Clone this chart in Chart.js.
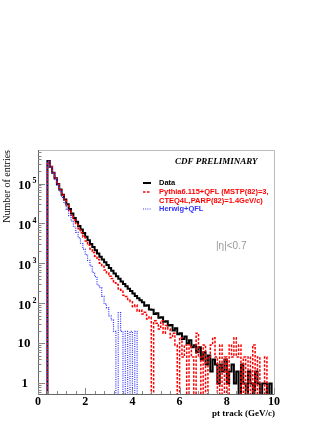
<!DOCTYPE html>
<html>
<head>
<meta charset="utf-8">
<script src="https://cdn.jsdelivr.net/npm/chart.js@4.4.0/dist/chart.umd.min.js"></script>
<style>
  html, body { margin: 0; padding: 0; background: #fff; }
  canvas { display: block; }
</style>
</head>
<body>
<canvas id="chart" width="329" height="425"></canvas>
<script>
// pt bins of 0.1 GeV/c from 0 to 10
const binWidth = 0.1;

// CDF data, entries per bin
const dataCounts = [
  0, 0, 0, 0, 363000, 263000, 186000, 135000, 97700, 70800,
  52500, 39800, 30200, 22900, 17800, 13800, 11000, 8710, 7080, 5750,
  4680, 3800, 3090, 2570, 2140, 1780, 1480, 1260, 1070, 912,
  776, 661, 562, 479, 417, 355, 309, 269, 234, 204,
  178, 155, 135, 120, 108, 88, 90, 71, 70, 55,
  57, 44, 45, 35, 36, 28, 29, 21, 24, 17,
  18, 13, 15, 10, 12, 8, 9, 6, 8, 4,
  6, 3, 5, 2, 4, 3, 1, 3, 2, 4,
  1, 2, 3, 1, 2, 0, 3, 1, 0, 2,
  1, 0, 2, 1, 0, 1, 1, 0, 1, 0
];

// Pythia6.115+QFL
const pythiaCounts = [
  0, 0, 0, 0, 355000, 262000, 184000, 133000, 96000, 69000,
  50500, 37800, 28300, 21200, 16100, 12300, 9500, 7400, 5850, 4600,
  3650, 2900, 2300, 1880, 1520, 1260, 1010, 850, 690, 590,
  480, 420, 330, 300, 230, 215, 160, 150, 120, 110,
  83, 92, 64, 69, 55, 60, 41, 46, 0, 37,
  32, 23, 37, 18, 28, 23, 14, 18, 9.2, 0,
  14, 4.6, 9.2, 0, 9.2, 4.6, 0, 18, 4.6, 0,
  9.2, 0, 4.6, 9.2, 14, 4.6, 0, 9.2, 0, 4.6,
  0, 9.2, 4.6, 14, 4.6, 9.2, 0, 4.6, 0, 4.6,
  0, 9.2, 0, 4.6, 0, 0, 4.6, 0, 0, 0
];

// Herwig+QFL
const herwigCounts = [
  0, 0, 0, 0, 363000, 257000, 182000, 129000, 91200, 64600,
  44700, 31600, 22400, 15800, 11500, 8300, 6030, 4370, 3160, 2290,
  1660, 1200, 870, 600, 470, 290, 250, 150, 98, 78,
  49, 39, 20, 0, 59, 20, 0, 20, 0, 20,
  0, 20, 0, 0, 0, 0, 0, 0, 0, 0,
  0, 0, 0, 0, 0, 0, 0, 0, 0, 0,
  0, 0, 0, 0, 0, 0, 0, 0, 0, 0,
  0, 0, 0, 0, 0, 0, 0, 0, 0, 0,
  0, 0, 0, 0, 0, 0, 0, 0, 0, 0,
  0, 0, 0, 0, 0, 0, 0, 0, 0, 0
];

const xTickValues = [0, 2, 4, 6, 8, 10];
const xTickLabels = ['0', '2', '4', '6', '8', '10'];
const yTickValues = [1, 10, 100, 1000, 10000, 100000];
const yTickBase = ['1', '10', '10', '10', '10', '10'];
const yTickExp = ['', '', '2', '3', '4', '5'];

const yMin = 0.546;
const yMax = 688000;
const emptyBinLevel = 0.5; // empty bins sit just under the frame

function histPoints(counts) {
  const pts = counts.map((c, i) => ({ x: i * binWidth, y: c > 0 ? c : emptyBinLevel }));
  const last = counts[counts.length - 1];
  pts.push({ x: counts.length * binWidth, y: last > 0 ? last : emptyBinLevel });
  return pts;
}

const decor = {
  id: 'decor',
  afterDraw(chart) {
    const { ctx, chartArea: a } = chart;
    const x = chart.scales.x, y = chart.scales.y;
    ctx.save();

    // frame
    ctx.lineWidth = 1;
    ctx.strokeStyle = '#bbbbbb';
    ctx.beginPath();
    ctx.moveTo(a.left, a.top + 0.5); ctx.lineTo(a.right + 0.5, a.top + 0.5);
    ctx.lineTo(a.right + 0.5, a.bottom);
    ctx.stroke();
    ctx.strokeStyle = '#666666';
    ctx.beginPath();
    ctx.moveTo(a.left + 0.5, a.top); ctx.lineTo(a.left + 0.5, a.bottom + 0.5);
    ctx.lineTo(a.right + 0.5, a.bottom + 0.5);
    ctx.stroke();

    // ticks
    ctx.strokeStyle = '#888888';
    ctx.beginPath();
    for (let d = -1; d <= 5; d++) {
      for (let m = 1; m <= 9; m++) {
        const py = y.getPixelForValue(m * Math.pow(10, d));
        if (py < a.top || py > a.bottom) continue;
        const len = m === 1 ? 7 : 3.5;
        ctx.moveTo(a.left, Math.round(py) + 0.5);
        ctx.lineTo(a.left + len, Math.round(py) + 0.5);
      }
    }
    for (let v = 0; v <= 10.001; v += 0.4) {
      const px = Math.round(x.getPixelForValue(v)) + 0.5;
      const major = Math.abs(v / 2 - Math.round(v / 2)) < 0.01;
      ctx.moveTo(px, a.bottom);
      ctx.lineTo(px, a.bottom - (major ? 6 : 3));
    }
    ctx.stroke();

    // tick labels
    ctx.fillStyle = '#000';
    ctx.textBaseline = 'middle';
    ctx.textAlign = 'center';
    ctx.font = 'bold 12px "Liberation Serif"';
    xTickValues.forEach((v, i) => {
      ctx.fillText(xTickLabels[i], x.getPixelForValue(v), a.bottom + 8);
    });
    yTickValues.forEach((v, i) => {
      const py = y.getPixelForValue(v);
      ctx.font = 'bold 13px "Liberation Serif"';
      ctx.textAlign = 'right';
      if (yTickExp[i]) {
        ctx.fillText(yTickBase[i], 31, py + 2.5);
        ctx.font = 'bold 8px "Liberation Serif"';
        ctx.textAlign = 'left';
        ctx.fillText(yTickExp[i], 32.5, py - 3);
      } else {
        ctx.fillText(yTickBase[i], yTickBase[i] === '1' ? 28 : 30.5, py);
      }
    });

    // axis titles
    ctx.font = '10px "Liberation Serif"';
    ctx.textAlign = 'right';
    ctx.save();
    ctx.translate(7, a.top);
    ctx.rotate(-Math.PI / 2);
    ctx.fillText('Number of entries', 0, 0);
    ctx.restore();

    ctx.font = 'bold 9px "Liberation Serif"';
    ctx.fillText('pt track (GeV/c)', 275, 414);

    // header and annotation
    ctx.font = 'italic bold 9px "Liberation Serif"';
    ctx.textAlign = 'left';
    ctx.fillText('CDF PRELIMINARY', 175, 162);

    ctx.font = '10px "Liberation Sans"';
    ctx.fillStyle = '#999999';
    ctx.fillText('|\u03B7|<0.7', 216, 246);

    // legend
    const lx0 = 143, lx1 = 151, tx = 159;
    const rows = [
      { y: 183, color: '#000', width: 2, dash: [] },
      { y: 192, color: '#ff0000', width: 1.5, dash: [2.5, 1.5] },
      { y: 209, color: '#3333ff', width: 1.2, dash: [1, 1.2] }
    ];
    rows.forEach(r => {
      ctx.strokeStyle = r.color;
      ctx.lineWidth = r.width;
      ctx.setLineDash(r.dash);
      ctx.beginPath();
      ctx.moveTo(lx0, r.y); ctx.lineTo(lx1, r.y);
      ctx.stroke();
    });
    ctx.setLineDash([]);
    ctx.font = 'bold 7.5px "Liberation Sans"';
    ctx.fillStyle = '#000';
    ctx.fillText('Data', tx, 183);
    ctx.fillStyle = '#ff0000';
    ctx.fillText('Pythia6.115+QFL (MSTP(82)=3,', tx, 192);
    ctx.fillText('CTEQ4L,PARP(82)=1.4GeV/c)', tx, 200.5);
    ctx.fillStyle = '#3333ff';
    ctx.fillText('Herwig+QFL', tx, 209);

    ctx.restore();
  }
};

new Chart(document.getElementById('chart'), {
  type: 'line',
  data: {
    datasets: [
      {
        label: 'Herwig+QFL',
        data: histPoints(herwigCounts),
        borderColor: '#3333ff',
        borderWidth: 1.2,
        borderDash: [1, 1.2],
        stepped: true,
        order: 0
      },
      {
        label: 'Pythia6.115+QFL',
        data: histPoints(pythiaCounts),
        borderColor: '#ff0000',
        borderWidth: 1.5,
        borderDash: [2.5, 1.5],
        stepped: true,
        order: 1
      },
      {
        label: 'Data',
        data: histPoints(dataCounts),
        borderColor: '#000000',
        borderWidth: 2,
        stepped: true,
        order: 2
      }
    ]
  },
  options: {
    responsive: false,
    animation: false,
    layout: { padding: { left: 0, right: 55, top: 150, bottom: 0 } },
    elements: { point: { radius: 0 }, line: { tension: 0 } },
    datasets: { line: { clip: 0 } },
    scales: {
      x: {
        type: 'linear',
        min: 0,
        max: 10,
        grid: { display: false },
        border: { display: false },
        ticks: { display: false },
        afterFit: s => { s.height = 31; }
      },
      y: {
        type: 'logarithmic',
        min: yMin,
        max: yMax,
        grid: { display: false },
        border: { display: false },
        ticks: { display: false },
        afterFit: s => { s.width = 38; }
      }
    },
    plugins: {
      legend: { display: false },
      tooltip: { enabled: false }
    }
  },
  plugins: [decor]
});
</script>
</body>
</html>
